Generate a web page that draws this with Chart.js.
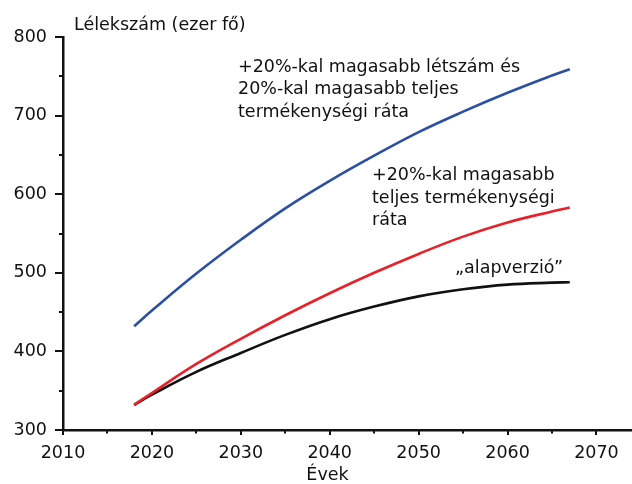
<!DOCTYPE html>
<html>
<head>
<meta charset="utf-8">
<script src="https://cdn.jsdelivr.net/npm/chart.js@4"></script>
<style>
html,body{margin:0;padding:0;background:#fff;}
#wrap{width:632px;height:484px;}
</style>
</head>
<body>
<div id="wrap"><canvas id="c" width="632" height="484"></canvas></div>
<script>
// ---- data ----
const years = [2018, 2020, 2025, 2030, 2035, 2040, 2045, 2050, 2055, 2060, 2065, 2067];
const highPopFert = [432, 452, 499, 542, 582, 617, 649, 679, 705, 729, 751, 759];
const highFert = [332, 347, 384, 416, 446, 474, 500, 524, 546, 564, 578, 583];
const baseline = [332, 345, 374, 398, 421, 441, 457, 470, 479, 485, 487.5, 488];
const yTicks = [300, 400, 500, 600, 700, 800];
const xTicks = [2010, 2020, 2030, 2040, 2050, 2060, 2070];
const yTitle = 'Lélekszám (ezer fő)';
const xTitle = 'Évek';
const label1 = ['+20%-kal magasabb létszám és', '20%-kal magasabb teljes', 'termékenységi ráta'];
const label2 = ['+20%-kal magasabb', 'teljes termékenységi', 'ráta'];
const label3 = ['\u201Ealapverzió\u201D'];

const FONT = '"DejaVu Sans", sans-serif';
const TXT = '#111111';

function pts(vals){ return years.map((yr,i)=>({x:yr,y:vals[i]})); }

const decor = {
  id:'decor',
  afterDraw(chart){
    const {ctx, scales:{x,y}} = chart;
    ctx.save();
    ctx.strokeStyle = TXT; ctx.lineWidth = 2;
    ctx.beginPath();
    for (const t of y.ticks){
      const py = Math.round(y.getPixelForValue(t.value));
      const len = yTicks.includes(t.value) ? 8 : 4;
      ctx.moveTo(x.left - len, py); ctx.lineTo(x.left, py);
    }
    for (const t of x.ticks){
      const px = Math.round(x.getPixelForValue(t.value));
      const len = xTicks.includes(t.value) ? 5 : 3.5;
      ctx.moveTo(px, y.bottom); ctx.lineTo(px, y.bottom + len);
    }
    ctx.stroke();
    ctx.fillStyle = TXT;
    ctx.font = '17.5px ' + FONT;
    ctx.textBaseline = 'alphabetic';
    ctx.textAlign = 'left';
    ctx.fillText(yTitle, 74, 30);
    label1.forEach((s,i)=>ctx.fillText(s, 238, 71.7 + i*22.5));
    label2.forEach((s,i)=>ctx.fillText(s, 372, 180 + i*22.5));
    label3.forEach((s,i)=>ctx.fillText(s, 455, 273 + i*22.5));
    ctx.textAlign = 'center';
    ctx.fillText(xTitle, 327.5, 480);
    ctx.restore();
  }
};

new Chart(document.getElementById('c'), {
  type:'line',
  data:{
    datasets:[
      {data:pts(highPopFert), borderColor:'#2b50a3', borderWidth:2.6},
      {data:pts(highFert), borderColor:'#e8202a', borderWidth:2.6},
      {data:pts(baseline), borderColor:'#111111', borderWidth:2.6}
    ]
  },
  options:{
    responsive:false,
    animation:false,
    devicePixelRatio:1,
    layout:{padding:{top:37, right:0, left:0, bottom:0}},
    elements:{point:{radius:0}, line:{tension:0.4, fill:false, borderCapStyle:'butt'}},
    plugins:{legend:{display:false}, tooltip:{enabled:false}, title:{display:false}},
    scales:{
      x:{
        type:'linear', min:2010, max:2074,
        grid:{display:false},
        border:{display:true, color:TXT, width:2.5},
        ticks:{stepSize:5, includeBounds:false, autoSkip:false, maxRotation:0, padding:5,
          color:TXT, font:{family:FONT, size:17.5},
          callback:(v)=> xTicks.includes(v) ? String(v) : ''},
        afterFit:(s)=>{ s.height = 54; }
      },
      y:{
        type:'linear', min:300, max:800,
        grid:{display:false},
        border:{display:true, color:TXT, width:2.5},
        ticks:{stepSize:50, autoSkip:false, padding:8,
          color:TXT, font:{family:FONT, size:17.5},
          callback:(v)=> yTicks.includes(v) ? String(v) : ''},
        afterFit:(s)=>{ s.width = 63; }
      }
    }
  },
  plugins:[decor]
});
</script>
</body>
</html>
